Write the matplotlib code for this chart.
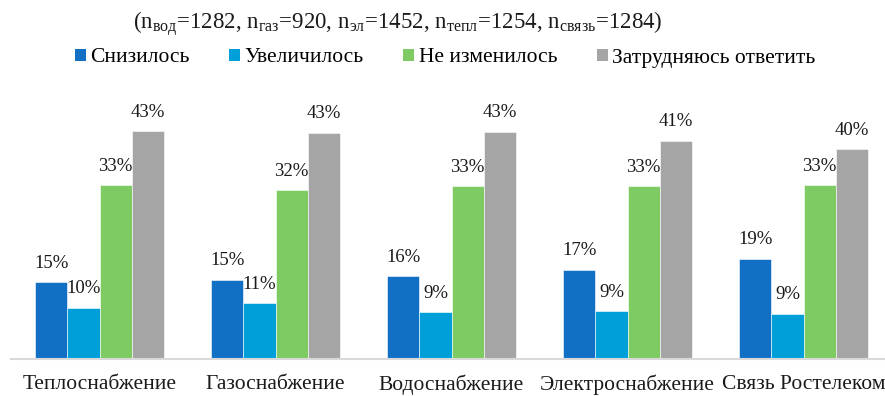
import matplotlib
matplotlib.use("Agg")
import matplotlib.pyplot as plt
import numpy as np
from matplotlib.patches import Patch

categories = ["Теплоснабжение", "Газоснабжение", "Водоснабжение", "Электроснабжение", "Связь Ростелеком"]
series_names = ["Снизилось", "Увеличилось", "Не изменилось", "Затрудняюсь ответить"]
decreased = [14.6, 15.0, 15.7, 16.9, 19.0]
increased = [9.7, 10.6, 8.9, 9.1, 8.6]
unchanged = [32.9, 32.0, 32.8, 32.8, 33.0]
unsure = [43.2, 42.9, 43.1, 41.4, 39.8]
labels_decreased = ["15%", "15%", "16%", "17%", "19%"]
labels_increased = ["10%", "11%", "9%", "9%", "9%"]
labels_unchanged = ["33%", "32%", "33%", "33%", "33%"]
labels_unsure = ["43%", "43%", "43%", "41%", "40%"]
colors = ["#1170C4", "#009FD9", "#7ECB63", "#A5A5A5"]
title = "(n$_{\\mathrm{вод}}$=1282, n$_{\\mathrm{газ}}$=920, n$_{\\mathrm{эл}}$=1452, n$_{\\mathrm{тепл}}$=1254, n$_{\\mathrm{связь}}$=1284)"

plt.rcParams['font.family'] = ['Liberation Serif', 'DejaVu Serif']
plt.rcParams['mathtext.fontset'] = 'custom'
plt.rcParams['mathtext.rm'] = 'Liberation Serif'
plt.rcParams['mathtext.it'] = 'Liberation Serif'
plt.rcParams['mathtext.bf'] = 'Liberation Serif'

W, H = 885, 396
fig = plt.figure(figsize=(W / 100, H / 100), dpi=100)
left_px, right_px = 11, 885
base_px, top_px = 359, 100
ax = fig.add_axes([left_px / W, (H - base_px) / H, (right_px - left_px) / W, (base_px - top_px) / H])

data = [decreased, increased, unchanged, unsure]
labs = [labels_decreased, labels_increased, labels_unchanged, labels_unsure]
x = np.arange(len(categories))
bw = 0.182
for i, (vals, lab) in enumerate(zip(data, labs)):
    pos = x + (i - 1.5) * bw
    bars = ax.bar(pos, vals, width=bw, color=colors[i], edgecolor='white', linewidth=0.4, label=series_names[i])
    for b, t in zip(bars, lab):
        ax.annotate(t, (b.get_x() + b.get_width() / 2, b.get_height()), xytext=(0, 7.5),
                    textcoords='offset points', ha='center', va='bottom', fontsize=13.5, color='#1a1a1a')

ax.set_xlim(-0.503, 4.463)
ax.set_ylim(0, 49.1)
for s in ['top', 'right', 'left']:
    ax.spines[s].set_visible(False)
ax.spines['bottom'].set_color('#D9D9D9')
ax.spines['bottom'].set_linewidth(1.5)
ax.set_yticks([])
ax.set_xticks(x)
ax.set_xticklabels(categories, fontsize=15.5, color='#1a1a1a')
ax.tick_params(axis='x', length=0, pad=11.5)

fig.text(0.450, 1 - 24 / H, title, ha='center', va='center', fontsize=16.5, color='#1a1a1a')

handles = [Patch(facecolor=c) for c in colors]
fig.legend(handles, series_names, loc='center', bbox_to_anchor=(0.503, 1 - 58 / H), ncol=4,
           frameon=False, fontsize=15.5, handlelength=0.5, handleheight=0.5, handletextpad=0.2,
           columnspacing=1.85)

fig.savefig("out.png", dpi=100)
